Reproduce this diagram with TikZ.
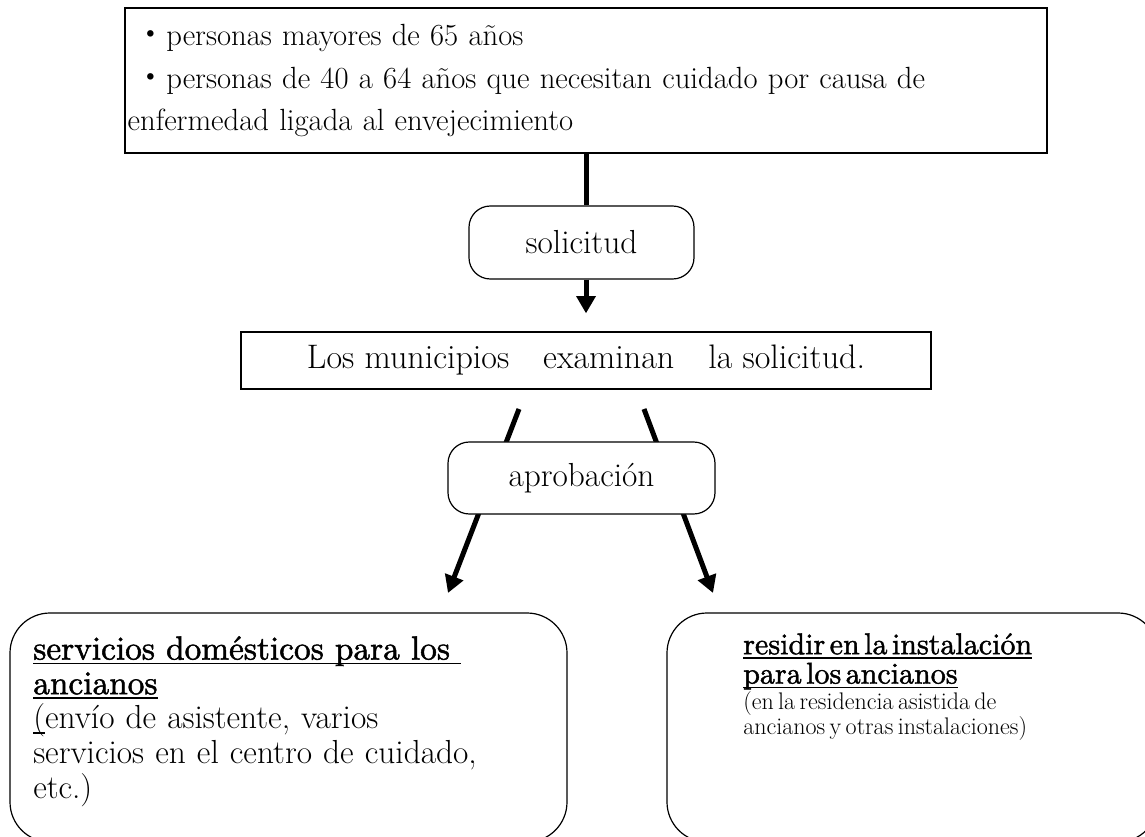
\documentclass[tikz,border=0pt]{standalone}
\usepackage{fontspec}
\newfontfamily\cjk{Noto Sans CJK JP}
\newfontfamily\heavy[FakeBold=1.5]{lmroman10-regular.otf}
\newcommand{\undl}[1]{\leavevmode\setbox0\hbox{#1}\rlap{\rule[-3.5pt]{\wd0}{1.2pt}}\box0}
\setlength{\parindent}{0pt}
\usetikzlibrary{arrows.meta}
\usetikzlibrary{positioning}

\begin{document}
\begin{tikzpicture}[x=0.75pt,y=-0.75pt]
  \tikzset{plainbox/.style = {draw, line width=0.9pt, inner sep=0pt}}
  \tikzset{roundbox/.style = {plainbox, rounded corners=16pt, fill=white}}
  \tikzset{bigbox/.style = {plainbox, rounded corners=30pt}}
  \tikzset{boxtext/.style = {anchor=north west, inner sep=0pt, align=left}}
  \tikzset{stem/.style = {line width=3.75pt}}
  \tikzset{%
  tipB/.tip={Triangle[width=14pt,length=13pt]},
}
  \tikzset{flow/.style = {stem, -tipB}}

  \useasboundingbox (0,0) rectangle (1145,837);
  \clip (0,0) rectangle (1145,837);

	\node[plainbox, text width=687.5pt, minimum height=108.75pt, inner xsep=2pt,
	  align=left, font=\fontsize{23}{32}\selectfont] (who) at (586,80.5)
	  {\hspace*{6pt}{\cjk ・}personas mayores de 65 años\\
	   \hspace*{6pt}{\cjk ・}personas de 40 a 64 años que necesitan cuidado por causa de\\
	   enfermedad ligada al envejecimiento};

	\node[roundbox, minimum width=168.75pt, minimum height=54.75pt,
	  font=\fontsize{25}{30}\selectfont] (ask) at (581.5,242.5) {solicitud};

	\node[plainbox, minimum width=517.5pt, minimum height=42.75pt,
	  font=\fontsize{25.5}{30}\selectfont] (check) at (586,360.5)
	  {Los municipios\quad examinan\quad la solicitud.};

	\draw[stem] (who.south) -- (who.south |- ask.north);
	\draw[flow, shorten >=13.5pt] (who.south |- ask.south) -- (check.north);

	\coordinate (ls) at (519,409);
	\coordinate (lt) at (448,593);
	\coordinate (rs) at (644,409);
	\coordinate (rt) at (713,593);

    \foreach \from/\to in {ls/lt, rs/rt}
    \path[flow](\from) edge (\to);

	\node[roundbox, minimum width=200.25pt, minimum height=54pt,
	  font=\fontsize{25}{30}\selectfont] (yes) at (581.5,478) {aprobación};

	% bottom boxes
	\node[bigbox, minimum width=417.75pt, minimum height=171.75pt] (care) at (288.5,727.5) {};
	\node[boxtext, text width=400pt, font=\fontsize{25}{26}\selectfont] (caretxt) at (33,636)
	  {\heavy\undl{servicios domésticos para los\ }\\
	   \undl{ancianos}\\
	   \normalfont\fontsize{25}{26}\selectfont\undl{(}envío de asistente, varios\\
	   servicios en el centro de cuidado,\\
	   etc.)};

	\node[bigbox, minimum width=368.25pt, minimum height=171.75pt] (stay) at (912.5,727.5) {};
	\node[boxtext, text width=330pt] (staytxt) at (743,633)
	  {\fontsize{22.5}{22}\selectfont\heavy
	    \undl{residir en la instalación}\\
	    \undl{para los ancianos}\par
	   \normalfont\fontsize{18}{19.5}\selectfont
	    (en la residencia asistida de\\
	    ancianos y otras instalaciones)};

\end{tikzpicture}
\end{document}
